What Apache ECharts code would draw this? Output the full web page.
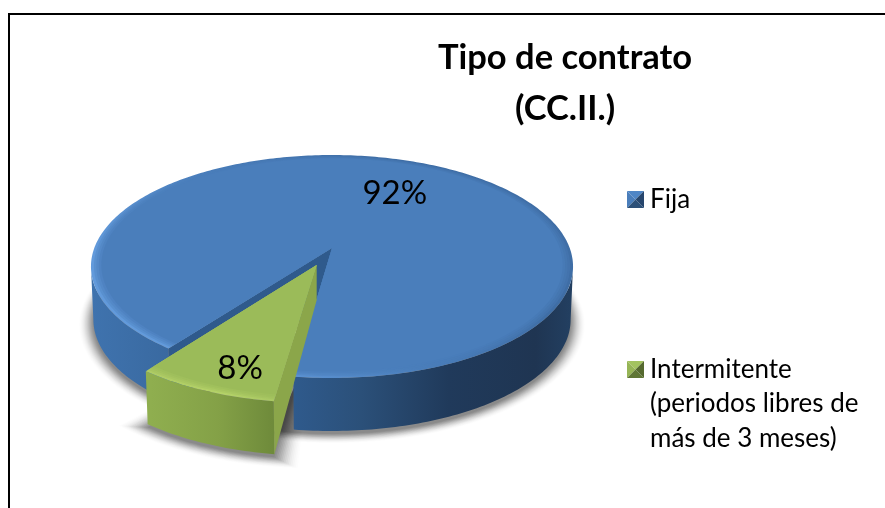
<!DOCTYPE html>
<html><head><meta charset="utf-8">
<style>html,body{margin:0;padding:0;background:#fff}#c{width:885px;height:508px}</style>
<script src="https://cdn.jsdelivr.net/npm/echarts@6/dist/echarts.min.js"></script>
</head><body><div id="c"></div>
<script>
const titleLines = ['Tipo de contrato', '(CC.II.)'];
const categories = ['Fija', 'Intermitente\n(periodos libres de\nmás de 3 meses)'];
const values = [92, 8];
const labels = ['92%', '8%'];
const explode = [0, 0.166];

const FONT = 'Lato, "Open Sans", sans-serif';
const total = values.reduce((a, b) => a + b, 0);
const startAngle = 216.6;
const CX = 332, AY = 248, RX = 237.7, SY = 108.4, K = 0.166, DEPTH = 53;
const rad = d => d * Math.PI / 180;

function proj(u, v, level) {
  const d = 1 - K * v;
  return [CX + RX * (level ? 0.99 : 1) * u / d, AY + (level ? DEPTH : 0) + SY * v / d];
}
function onRim(theta, r, off, level) {
  return proj(r * Math.sin(rad(theta)) + off[0], -r * Math.cos(rad(theta)) + off[1], level);
}
function rim(a, b, r, off, level) {
  const n = Math.max(2, Math.ceil(Math.abs(b - a))), p = [];
  for (let i = 0; i <= n; i++) p.push(onRim(a + (b - a) * i / n, r, off, level));
  return p;
}
function sector(a, b, r, off, level) {
  return [proj(off[0], off[1], level)].concat(rim(a, b, r, off, level));
}
function wallParts(a, b, off) {
  const parts = [];
  for (let k = -1; k <= 2; k++) {
    const s = Math.max(a, 99.5 + 360 * k), e = Math.min(b, 260.5 + 360 * k);
    if (e > s) parts.push(rim(s, e, 1, off, 0).concat(rim(s, e, 1, off, 1).reverse()));
  }
  return parts;
}
function range(i) {
  let a = startAngle;
  for (let j = 0; j < i; j++) a += values[j] / total * 360;
  return [a, a + values[i] / total * 360];
}
function poly(points, style) {
  return { type: 'polygon', shape: { points }, style };
}
const hGrad = (x0, x1, stops) => ({ type: 'linear', global: true, x: x0, y: 0, x2: x1, y2: 0,
  colorStops: stops.map(s => ({ offset: s[0], color: s[1] })) });
const dGrad = (x0, y0, x1, y1, stops) => ({ type: 'linear', global: true, x: x0, y: y0, x2: x1, y2: y1,
  colorStops: stops.map(s => ({ offset: s[0], color: s[1] })) });

const looks = [
  { top: '#4a7ebb',
    rim: dGrad(400, 180, 230, 370, [[0, '#3f6ea6'], [0.5, '#4a7ebb'], [1, '#629adb']]),
    wall: hGrad(91, 574, [[0, '#3f73ae'], [0.2, '#38679d'], [0.42, '#2f5a8c'], [0.56, '#2b5079'], [0.74, '#203a5b'], [0.92, '#1f3552'], [1, '#234062']]),
    face: '#2f5a8c' },
  { top: '#9bbb59',
    rim: dGrad(272, 402, 151, 370, [[0, '#a9c863'], [0.4, '#b4d268'], [1, '#aecb65']]),
    wall: hGrad(151, 272, [[0, '#8fae4f'], [0.55, '#84a147'], [1, '#6f8b3b']]),
    face: '#8ba64a' }
];

const shadowSteps = [[14, .008], [13, .012], [12, .016], [11, .02], [10, .025], [9, .03], [8, .035], [7, .04], [6, .045], [5, .05], [4, .055], [3, .06], [2, .06], [1, .06], [0, .06]];
const shadowSpreadBase = [4, 0];
const shadowSpreadStep = [0, 0.35];
function renderShadow(params, api) {
  const i = api.value(0), [a, b] = range(i), e = explode[i];
  const m = rad((a + b) / 2), off = [e * Math.sin(m), -e * Math.cos(m)];
  const ch = [];
  shadowSteps.forEach(s => {
    const w = shadowSpreadBase[i] + shadowSpreadStep[i] * s[0];
    const pts = sector(a - w, b + w, 1 + s[0] / 240, off, 1).map(p => [p[0], p[1] + 3]);
    ch.push(poly(pts, { fill: '#000', opacity: s[1] }));
  });
  return { type: 'group', silent: true, children: ch };
}
function renderBody(params, api) {
  const i = api.value(0), [a, b] = range(i), e = explode[i], L = looks[i];
  const m = rad((a + b) / 2), off = [e * Math.sin(m), -e * Math.cos(m)];
  const ch = [];
  wallParts(a, b, off).forEach(p => ch.push(poly(p, { fill: L.wall })));
  const apexTop = proj(off[0], off[1], 0);
  const low = e === 0 ? proj(off[0], off[1], 1) : [apexTop[0], apexTop[1] + 35];
  ch.push(poly([apexTop, onRim(a, 1, off, 0), onRim(a, 1, off, 1), low], { fill: L.face }));
  ch.push(poly(sector(a, b, 1, off, 0), { fill: L.rim }));
  [[0.988, 0.35], [0.978, 0.35], [0.968, 0.5], [0.958, 1]].forEach(s =>
    ch.push(poly(sector(a, b, s[0], off, 0), { fill: L.top, opacity: s[1] })));
  return { type: 'group', silent: true, children: ch };
}
const labelAt = [[0.62, 12, 2], [0.8, 10, 7]];
function renderLabel(params, api) {
  const i = api.value(0), [a, b] = range(i), e = explode[i];
  const mid = (a + b) / 2, m = rad(mid), off = [e * Math.sin(m), -e * Math.cos(m)];
  const p = onRim(mid, labelAt[i][0], off, 0);
  return { type: 'text', silent: true, style: { text: labels[i], x: p[0] + labelAt[i][1], y: p[1] + labelAt[i][2],
    fill: '#000', font: '33px ' + FONT, align: 'center', verticalAlign: 'middle' } };
}
function swatch(x, y, s, c) {
  const mx = x + s / 2, my = y + s / 2;
  const tri = (p, fill) => ({ type: 'polygon', shape: { points: p }, style: { fill }, silent: true });
  return [
    tri([[x, y], [x + s, y], [mx, my]], c[0]),
    tri([[x, y], [x, y + s], [mx, my]], c[1]),
    tri([[x + s, y], [x + s, y + s], [mx, my]], c[2]),
    tri([[x, y + s], [x + s, y + s], [mx, my]], c[3])
  ];
}
const swatchColors = [['#4f86c6', '#4a7ebb', '#27466d', '#2c5078'], ['#a3c35f', '#96b556', '#55692f', '#5f7635']];
const legendTop = [191, 361];
const graphics = [{ type: 'rect', shape: { x: 9, y: 14, width: 900, height: 520 }, style: { fill: 'none', stroke: '#000', lineWidth: 2 }, silent: true }];
categories.forEach((c, i) => {
  swatch(627, legendTop[i], 17, swatchColors[i]).forEach(g => graphics.push(g));
  graphics.push({ type: 'text', silent: true, style: { text: c, x: 650, y: legendTop[i] - 9, fill: '#000', font: '26px ' + FONT, lineHeight: 34.5 } });
});

const chart = echarts.init(document.getElementById('c'));
chart.setOption({
  animation: false,
  backgroundColor: '#fff',
  title: { text: titleLines.join('\n'), left: 560, top: 27, textAlign: 'center',
    textStyle: { fontFamily: FONT, fontSize: 34.5, fontWeight: 'bold', color: '#000', lineHeight: 51 } },
  graphic: graphics,
  series: [
    { type: 'custom', coordinateSystem: 'none', renderItem: renderShadow, data: values.map((v, i) => [i, v]), z: 1 },
    { type: 'custom', coordinateSystem: 'none', renderItem: renderBody, data: values.map((v, i) => [i, v]), z: 2 },
    { type: 'custom', coordinateSystem: 'none', renderItem: renderLabel, data: values.map((v, i) => [i, v]), z: 3 }
  ]
});
</script></body></html>
